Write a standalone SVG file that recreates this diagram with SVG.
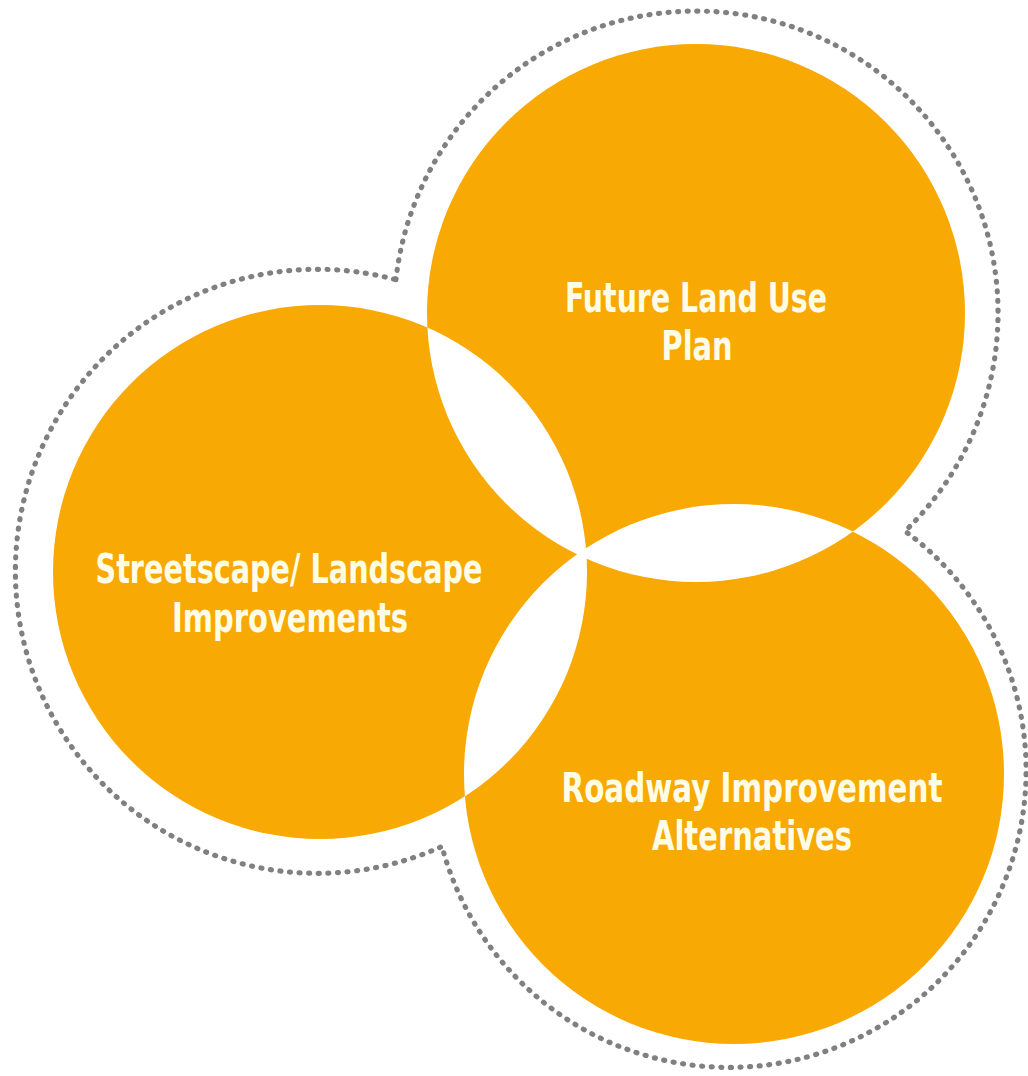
<svg xmlns="http://www.w3.org/2000/svg" width="1028" height="1076" viewBox="0 0 1028 1076">
  <style>
    .fill { fill: #F9A904; }
    .lens { fill: #FFFFFF; }
    .ring { fill: none; stroke: #808080; stroke-width: 5.2; stroke-linecap: round; stroke-dasharray: 1 8.6; }
    .label { font-family: "Liberation Sans Narrow", "DejaVu Sans Condensed", "Liberation Sans", sans-serif; font-weight: bold; font-size: 40px; fill: #FFFDE6; text-anchor: middle; }
  </style>
  <defs>
    <clipPath id="clipTop"><circle cx="696" cy="313" r="269"/></clipPath>
    <clipPath id="clipLeft"><circle cx="320" cy="572" r="267"/></clipPath>
    <clipPath id="clipBottom"><circle cx="734" cy="774" r="270"/></clipPath>
  </defs>
  <rect width="1028" height="1076" fill="#FFFFFF"/>

  <g id="outline">
    <path class="ring" d="M395.9,279.7 A302,302 0 1 1 905,531.1 A297,297 0 1 1 442,846.4 A302,302 0 1 1 395.9,279.7 Z"/>
  </g>

  <g id="node-future-land-use">
    <circle class="fill" cx="696" cy="313" r="269"/>
    <text class="label" x="696" y="312" textLength="262" lengthAdjust="spacingAndGlyphs">Future Land Use</text>
    <text class="label" x="697" y="360" textLength="71" lengthAdjust="spacingAndGlyphs">Plan</text>
  </g>

  <g id="node-streetscape">
    <circle class="fill" cx="320" cy="572" r="267"/>
    <text class="label" x="289" y="583" textLength="387" lengthAdjust="spacingAndGlyphs">Streetscape/ Landscape</text>
    <text class="label" x="290" y="632" textLength="236" lengthAdjust="spacingAndGlyphs">Improvements</text>
  </g>

  <g id="node-roadway">
    <circle class="fill" cx="734" cy="774" r="270"/>
    <text class="label" x="752" y="802" textLength="381" lengthAdjust="spacingAndGlyphs">Roadway Improvement</text>
    <text class="label" x="752" y="850" textLength="200" lengthAdjust="spacingAndGlyphs">Alternatives</text>
  </g>

  <g id="overlaps">
    <circle class="lens" cx="696" cy="313" r="269" clip-path="url(#clipLeft)"/>
    <circle class="lens" cx="696" cy="313" r="269" clip-path="url(#clipBottom)"/>
    <circle class="lens" cx="320" cy="572" r="267" clip-path="url(#clipBottom)"/>
  </g>
</svg>
